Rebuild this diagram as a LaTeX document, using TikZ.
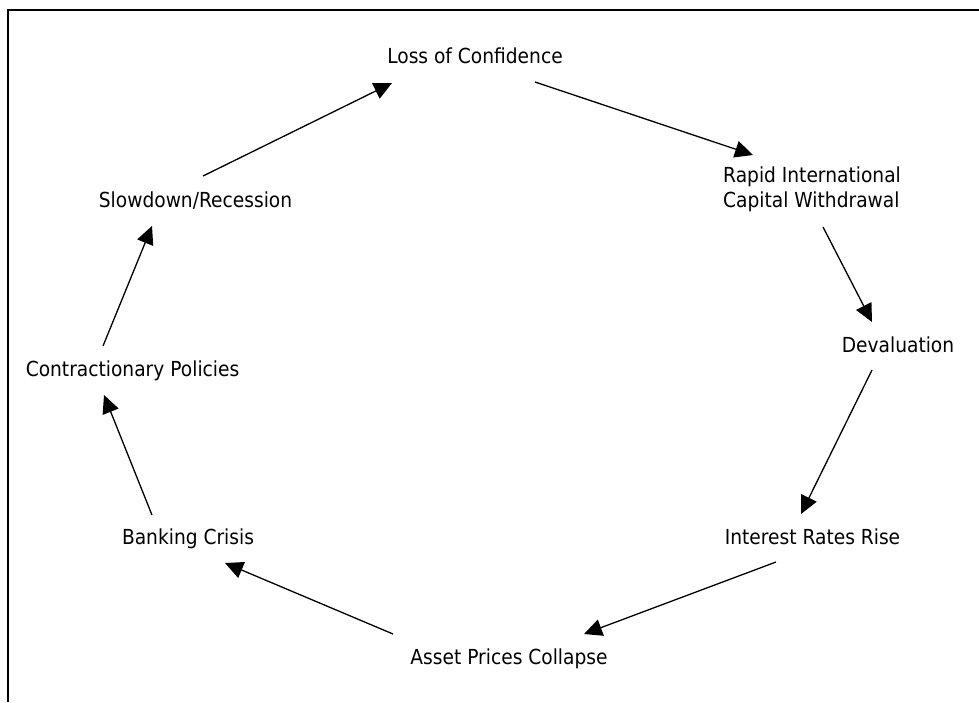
\documentclass[tikz,border=0pt]{standalone}
\usepackage{fontspec}
\setmainfont{DejaVu Sans}[FakeStretch=0.9]
\usetikzlibrary{arrows.meta}
\begin{document}
\begin{tikzpicture}[x=1pt,y=-1pt,
  label/.style={inner sep=0pt,font=\fontsize{20.7}{25}\selectfont,anchor=base},
  arr/.style={line width=1.3pt,-{Triangle[length=18pt,width=17pt]}},
  frame/.style={line width=2pt}]
\useasboundingbox (0,0) rectangle (979,702);
% open frame: top and left edges only
\draw[frame] (979,10) -- (7.5,10) -- (7.5,702);

% stages of the crisis cycle
\node[label] (loss) at (475,63) {Loss of Confidence};
\node[label,anchor=west,align=left] (rapid) at (723,189) {Rapid International\\Capital Withdrawal};
\node[label] (deval) at (898,352) {Devaluation};
\node[label] (rates) at (812.5,544) {Interest Rates Rise};
\node[label] (asset) at (509,664) {Asset Prices Collapse};
\node[label] (bank) at (188,544) {Banking Crisis};
\node[label] (contr) at (132.5,376) {Contractionary Policies};
\node[label] (slow) at (195.5,207) {Slowdown/Recession};

% cycle arrows
\draw[arr] ([shift={(60,19)}]loss.base) -- ([shift={(30,-34)}]rapid.west);
\draw[arr] ([shift={(100,38)}]rapid.west) -- ([shift={(-26,-30)}]deval.base);
\draw[arr] ([shift={(-26,18)}]deval.base) -- ([shift={(-11.5,-30)}]rates.base);
\draw[arr] ([shift={(-36.5,18)}]rates.base) -- ([shift={(75,-30)}]asset.base);
\draw[arr] ([shift={(-116,-30)}]asset.base) -- ([shift={(37,19)}]bank.base);
\draw[arr] ([shift={(-36,-29)}]bank.base) -- ([shift={(-28.5,19)}]contr.base);
\draw[arr] ([shift={(-29.5,-30)}]contr.base) -- ([shift={(-43.5,19)}]slow.base);
\draw[arr] ([shift={(7.5,-31)}]slow.base) -- ([shift={(-83,20)}]loss.base);
\end{tikzpicture}
\end{document}
